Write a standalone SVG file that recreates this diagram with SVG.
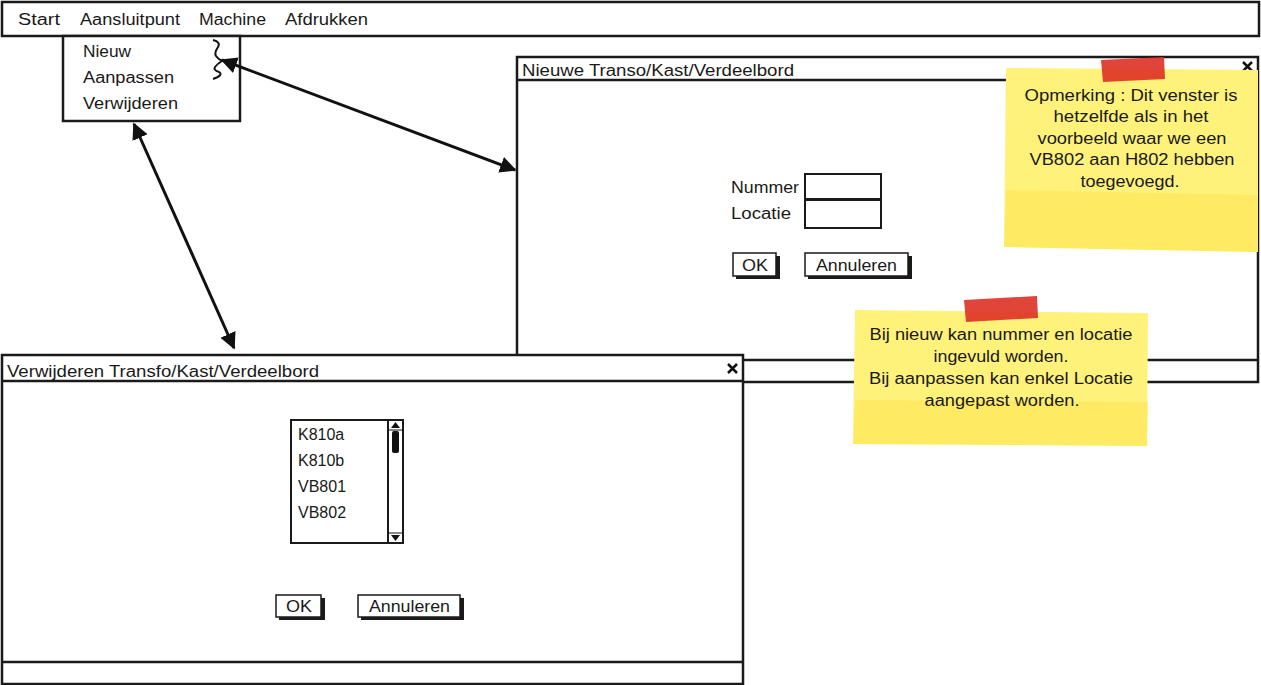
<svg xmlns="http://www.w3.org/2000/svg" width="1261" height="685" viewBox="0 0 1261 685">
<style>
  text { font-family: "Liberation Sans", Arial, sans-serif; font-size: 16px; fill: #1a1a1a; }
  .frame { fill: #ffffff; stroke: #1a1a1a; stroke-width: 2.5; }
  .sep { stroke: #1a1a1a; stroke-width: 2.5; fill: none; }
  .field { fill: #ffffff; stroke: #1a1a1a; stroke-width: 2; }
  .btn { fill: #ffffff; stroke: #1a1a1a; stroke-width: 1.5; }
  .shadow { fill: #1a1a1a; }
  .note { fill: #fff27a; }
  .note2 { fill: #ffe650; opacity: 0.55; }
  .tape { fill: #de3024; opacity: 0.9; }
  .ntext { font-size: 16px; text-anchor: middle; }
  .conn { stroke: #111; stroke-width: 3; fill: none; }
</style>
<defs>
  <marker id="ah" viewBox="0 0 10 10" refX="9" refY="5" markerWidth="5.5" markerHeight="5.5" orient="auto-start-reverse" markerUnits="strokeWidth">
    <path d="M0,0 L10,5 L0,10 Z" fill="#111"/>
  </marker>
</defs>

<g id="menubar">
  <rect class="frame" x="2" y="2" width="1257" height="34"/>
  <text x="18" y="25" textLength="42" lengthAdjust="spacingAndGlyphs">Start</text>
  <text x="80" y="25" textLength="100" lengthAdjust="spacingAndGlyphs">Aansluitpunt</text>
  <text x="199" y="25" textLength="67" lengthAdjust="spacingAndGlyphs">Machine</text>
  <text x="285" y="25" textLength="83" lengthAdjust="spacingAndGlyphs">Afdrukken</text>
</g>

<g id="dropdown">
  <rect class="frame" x="63" y="36" width="177" height="85"/>
  <text x="83" y="57" textLength="48" lengthAdjust="spacingAndGlyphs">Nieuw</text>
  <text x="83" y="83" textLength="91" lengthAdjust="spacingAndGlyphs">Aanpassen</text>
  <text x="83" y="109" textLength="95" lengthAdjust="spacingAndGlyphs">Verwijderen</text>
  <path d="M213,40 Q221,42 218,47 Q214,53 216,56 Q218,59 222,61 Q217,64 215,67 Q213,70 219,72 Q224,75 213,79" fill="none" stroke="#111" stroke-width="2"/>
</g>

<g id="window-nieuw">
  <rect class="frame" x="517" y="57" width="741" height="325"/>
  <line class="sep" x1="517" y1="80" x2="1258" y2="80"/>
  <line class="sep" x1="517" y1="360" x2="1258" y2="360"/>
  <text x="522" y="76" textLength="272" lengthAdjust="spacingAndGlyphs">Nieuwe Transo/Kast/Verdeelbord</text>
  <path d="M1243,62 L1252,71 M1252,62 L1243,71" stroke="#111" stroke-width="2.5"/>
  <text x="731" y="193" textLength="68" lengthAdjust="spacingAndGlyphs">Nummer</text>
  <rect class="field" x="805" y="174" width="76" height="25"/>
  <text x="731" y="219" textLength="60" lengthAdjust="spacingAndGlyphs">Locatie</text>
  <rect class="field" x="805" y="200" width="76" height="28"/>
  <rect class="shadow" x="736" y="256" width="44" height="23"/>
  <rect class="btn" x="733" y="253" width="43" height="23"/>
  <text x="742" y="271" textLength="26" lengthAdjust="spacingAndGlyphs">OK</text>
  <rect class="shadow" x="808" y="256" width="104" height="23"/>
  <rect class="btn" x="805" y="253" width="103" height="23"/>
  <text x="816" y="271" textLength="81" lengthAdjust="spacingAndGlyphs">Annuleren</text>
</g>

<g id="note-opmerking">
  <polygon class="note" points="1006,68 1258,70 1258,252 1004,247"/>
  <polygon class="note2" points="1006,190 1258,195 1258,252 1004,247"/>
  <polygon class="tape" points="1101,60 1164,57 1165,79 1103,82"/>
  <text class="ntext" x="1131" y="101" textLength="213" lengthAdjust="spacingAndGlyphs">Opmerking : Dit venster is</text>
  <text class="ntext" x="1131" y="122" textLength="155" lengthAdjust="spacingAndGlyphs">hetzelfde als in het</text>
  <text class="ntext" x="1132" y="144" textLength="189" lengthAdjust="spacingAndGlyphs">voorbeeld waar we een</text>
  <text class="ntext" x="1132" y="165" textLength="205" lengthAdjust="spacingAndGlyphs">VB802 aan H802 hebben</text>
  <text class="ntext" x="1130" y="187" textLength="99" lengthAdjust="spacingAndGlyphs">toegevoegd.</text>
</g>

<g id="window-verwijderen">
  <rect class="frame" x="2" y="355" width="741" height="329"/>
  <line class="sep" x1="2" y1="381" x2="743" y2="381"/>
  <line class="sep" x1="2" y1="662" x2="743" y2="662"/>
  <text x="7" y="377" textLength="312" lengthAdjust="spacingAndGlyphs">Verwijderen Transfo/Kast/Verdeelbord</text>
  <path d="M728,364 L737,373 M737,364 L728,373" stroke="#111" stroke-width="2.5"/>
  <rect class="field" x="291" y="420" width="97" height="123"/>
  <rect class="field" x="388" y="420" width="15" height="123" stroke-width="1.5"/>
  <path d="M391,428 L395.5,422 L400,428 Z" fill="#111"/>
  <rect x="392" y="431" width="7" height="22" rx="2" fill="#111"/>
  <path d="M391,535 L395.5,541 L400,535 Z" fill="#111"/>
  <line x1="388" y1="430" x2="403" y2="430" stroke="#111" stroke-width="1"/>
  <line x1="388" y1="533" x2="403" y2="533" stroke="#111" stroke-width="1"/>
  <text x="298" y="440">K810a</text>
  <text x="298" y="466">K810b</text>
  <text x="298" y="492">VB801</text>
  <text x="298" y="518">VB802</text>
  <rect class="shadow" x="279" y="598" width="46" height="22"/>
  <rect class="btn" x="276" y="595" width="45" height="22"/>
  <text x="286" y="612" textLength="26" lengthAdjust="spacingAndGlyphs">OK</text>
  <rect class="shadow" x="361" y="598" width="103" height="22"/>
  <rect class="btn" x="358" y="595" width="102" height="22"/>
  <text x="369" y="612" textLength="81" lengthAdjust="spacingAndGlyphs">Annuleren</text>
</g>

<g id="note-bij-nieuw">
  <polygon class="note" points="855,310 1148,313 1147,446 853,444"/>
  <polygon class="note2" points="855,400 1148,402 1147,446 853,444"/>
  <polygon class="tape" points="964,300 1037,296 1038,318 966,322"/>
  <text class="ntext" x="1001" y="340" textLength="263" lengthAdjust="spacingAndGlyphs">Bij nieuw kan nummer en locatie</text>
  <text class="ntext" x="1001" y="362" textLength="135" lengthAdjust="spacingAndGlyphs">ingevuld worden.</text>
  <text class="ntext" x="1001" y="384" textLength="264" lengthAdjust="spacingAndGlyphs">Bij aanpassen kan enkel Locatie</text>
  <text class="ntext" x="1002" y="406" textLength="155" lengthAdjust="spacingAndGlyphs">aangepast worden.</text>
</g>

<g id="connectors">
  <line class="conn" x1="222" y1="60" x2="515" y2="170" marker-start="url(#ah)" marker-end="url(#ah)"/>
  <line class="conn" x1="134" y1="124" x2="234" y2="348" marker-start="url(#ah)" marker-end="url(#ah)"/>
</g>
</svg>
